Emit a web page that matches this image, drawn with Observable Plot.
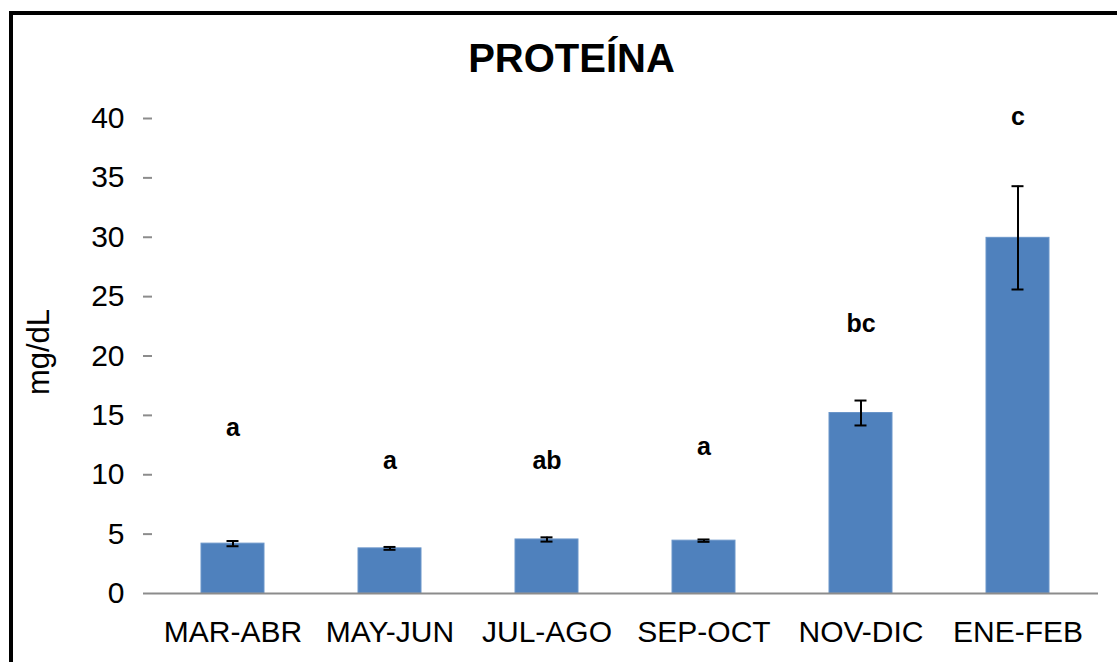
<!DOCTYPE html>
<html>
<head>
<meta charset="utf-8">
<script src="https://cdn.jsdelivr.net/npm/d3@7"></script>
<script src="https://cdn.jsdelivr.net/npm/@observablehq/plot@0.6"></script>
<style>
  html, body { margin: 0; padding: 0; background: #fff; overflow: hidden; }
  #wrap { position: relative; width: 1117px; height: 662px; }
  #frame { position: absolute; left: 9px; top: 11px; width: 1200px; height: 800px;
           border-left: 4px solid #000; border-top: 4px solid #000; pointer-events: none; }
  svg { font-family: "Liberation Sans", Arial, sans-serif; }
</style>
</head>
<body>
<div id="wrap"><div id="frame"></div></div>
<script>
const title = "PROTEÍNA";
const yLabel = "mg/dL";
const periods = ["MAR-ABR", "MAY-JUN", "JUL-AGO", "SEP-OCT", "NOV-DIC", "ENE-FEB"];
const means = [4.2, 3.8, 4.55, 4.45, 15.2, 29.95];
const errors = [0.22, 0.12, 0.18, 0.1, 1.05, 4.35];
const letters = ["a", "a", "ab", "a", "bc", "c"];
const letterY = [13.9, 11.2, 11.2, 12.3, 22.7, 40.1];
const yTicks = [0, 5, 10, 15, 20, 25, 30, 35, 40];

const data = periods.map((p, i) => ({
  period: p, mean: means[i], lo: means[i] - errors[i], hi: means[i] + errors[i],
  letter: letters[i], ly: letterY[i]
}));

const chart = Plot.plot({
  width: 1117,
  height: 662,
  marginLeft: 152,
  marginRight: 19,
  marginTop: 118,
  marginBottom: 69,
  style: { fontFamily: "'Liberation Sans', Arial, sans-serif", fontSize: "30px", background: "transparent", overflow: "visible" },
  x: { domain: periods, paddingInner: 0.6, paddingOuter: 0.3, label: null },
  y: { domain: [0, 40], label: null },
  marks: [
    Plot.barY(data, { x: "period", y: "mean", fill: "#4F81BD", stroke: "#6A95C9", strokeWidth: 1 }),
    Plot.ruleY([0], { stroke: "#8c8c8c", strokeWidth: 2 }),
    Plot.axisY({ ticks: yTicks, tickSize: 9, tickPadding: 19, fontSize: 30, stroke: "#8c8c8c", color: "#000", label: null, line: true, strokeWidth: 2 }),
    Plot.axisX({ tickSize: 0, tickPadding: 27, fontSize: 30, color: "#000", label: null }),
    Plot.ruleX(data, { x: "period", y1: "lo", y2: "hi", stroke: "#000", strokeWidth: 2 }),
    Plot.tickY(data, { x: "period", y: "lo", stroke: "#000", strokeWidth: 2, insetLeft: 25.5, insetRight: 25.5 }),
    Plot.tickY(data, { x: "period", y: "hi", stroke: "#000", strokeWidth: 2, insetLeft: 25.5, insetRight: 25.5 }),
    Plot.text(data, { x: "period", y: "ly", text: "letter", fontSize: 25, fontWeight: "bold", fill: "#000" }),
    Plot.text([title], { frameAnchor: "top", lineAnchor: "middle", textAnchor: "middle", dx: -54, dy: -59, fontSize: 40, fontWeight: "bold", fill: "#000" }),
    Plot.text([yLabel], { frameAnchor: "left", textAnchor: "middle", lineAnchor: "middle", dx: -113, dy: -4, rotate: -90, fontSize: 31, fill: "#000" })
  ]
});
document.getElementById("wrap").prepend(chart);
chart.style.position = "absolute";
chart.style.left = "0";
chart.style.top = "0";
</script>
</body>
</html>
